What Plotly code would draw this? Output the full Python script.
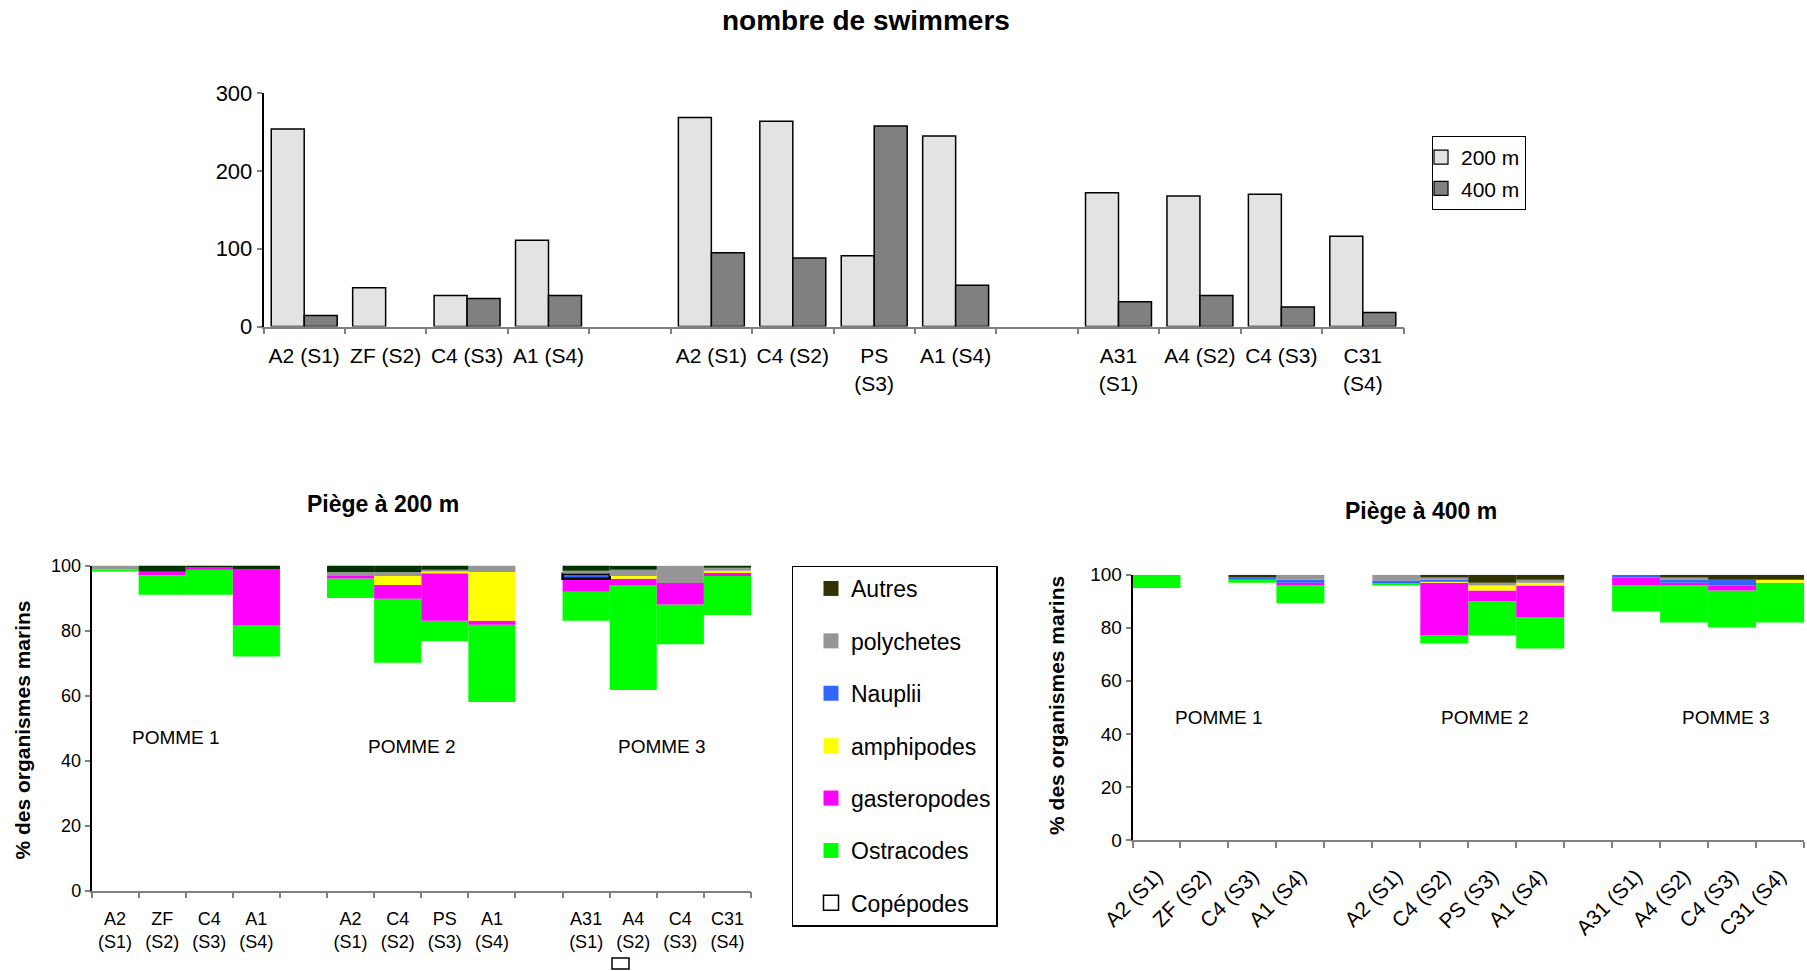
import numpy as np
import plotly.graph_objects as go

# ---------------- data ----------------
groups = ["POMME 1", "POMME 2", "POMME 3"]
sites = ["A2", "ZF", "C4", "A1", "A2", "C4", "PS", "A1", "A31", "A4", "C4", "C31"]
seasons = ["S1", "S2", "S3", "S4"] * 3

# number of swimmers
swim_200 = [254, 50, 40, 111, 269, 264, 91, 245, 172, 168, 170, 116]
swim_400 = [14, 0, 36, 40, 95, 88, 258, 53, 32, 40, 25, 18]

# % composition, trap at 200 m
cop_200 = [98.2, 91.0, 91.0, 72.0, 90.0, 70.1, 76.8, 58.0, 83.0, 61.7, 75.8, 84.8]
ost_200 = [0.6, 6.0, 8.0, 9.7, 6.0, 19.7, 6.2, 23.8, 8.9, 32.3, 12.2, 12.0]
gas_200 = [0, 1.1, 0.4, 17.1, 0.8, 4.2, 14.8, 1.2, 4.0, 1.9, 6.6, 0.9]
amp_200 = [0, 0, 0, 0, 0, 2.8, 0.6, 15.0, 0, 0.9, 0, 0.7]
nau_200 = [0, 0, 0, 0, 0, 0, 0, 0, 1.6, 0, 0, 0]
pol_200 = [1.2, 0, 0, 0, 1.2, 1.2, 0.3, 2.0, 0.9, 1.9, 5.3, 0.9]
aut_200 = [0, 1.9, 0.6, 1.2, 2.0, 2.0, 1.3, 0, 1.6, 1.2, 0, 0.7]

# % composition, trap at 400 m
cop_400 = [95.0, 0, 97.0, 89.2, 95.9, 74.1, 77.1, 72.2, 86.1, 82.0, 80.1, 82.0]
ost_400 = [5.0, 0, 1.1, 6.7, 1.0, 3.0, 12.9, 11.7, 9.8, 13.9, 13.9, 15.0]
gas_400 = [0, 0, 0, 1.1, 0, 19.9, 4.0, 12.0, 3.0, 1.1, 1.9, 0]
amp_400 = [0, 0, 0, 0, 0, 0.5, 1.9, 1.1, 0, 0, 0, 1.1]
nau_400 = [0, 0, 0.8, 1.1, 0.9, 0.6, 0, 0, 1.1, 1.1, 2.2, 0]
pol_400 = [0, 0, 0, 1.9, 2.2, 0.8, 1.1, 1.1, 0, 0.8, 0, 0]
aut_400 = [0, 0, 1.1, 0, 0, 1.1, 3.0, 1.9, 0, 1.1, 1.9, 1.9]

taxa = ["Copépodes", "Ostracodes", "gasteropodes", "amphipodes", "Nauplii", "polychetes", "Autres"]

# ---------------- styling ----------------
FONT = "Liberation Sans, Arial, sans-serif"
W, H = 1807, 971
colors_200 = ["#FFFFFF", "#00FF00", "#FF00FF", "#FFFF00", "#3366FF", "#969696", "#003300"]
colors_400 = ["#FFFFFF", "#00FF00", "#FF00FF", "#FFFF00", "#3366FF", "#969696", "#333300"]
legend_colors = ["#FFFFFF", "#00FF00", "#FF00FF", "#FFFF00", "#3366FF", "#969696", "#333300"]

n_per_group = 4
slot_per_group = n_per_group + 1
pos = [(i // n_per_group) * slot_per_group + (i % n_per_group) for i in range(len(sites))]
n_slots = len(groups) * slot_per_group - 1


def px_x(v):
    return v / W


def px_y(v):
    return 1 - v / H


top_wrap = {6, 8, 11}
top_labels = [f"{s}<br>({q})" if i in top_wrap else f"{s} ({q})" for i, (s, q) in enumerate(zip(sites, seasons))]
left_labels = [f"{s}<br>({q})" for s, q in zip(sites, seasons)]
right_labels = [f"{s} ({q})" for s, q in zip(sites, seasons)]

fig = go.Figure()

# ---- top chart ----
for name, vals, col in [("200 m", swim_200, "#E3E3E3"), ("400 m", swim_400, "#808080")]:
    fig.add_trace(go.Bar(x=pos, y=vals, name=name, xaxis="x", yaxis="y", showlegend=False,
                         marker=dict(color=col,
                                     line=dict(color="black", width=[1.5 if v else 0 for v in vals]))))
    fig.add_trace(go.Scatter(x=[None], y=[None], mode="markers", name=name, xaxis="x", yaxis="y",
                             legend="legend2", legendgroup=name, hoverinfo="skip",
                             marker=dict(symbol="square", size=14, color=col,
                                         line=dict(color="black", width=1.2))))


# ---- bottom stacked charts ----
def add_stack(layers, cols, xa, ya, special_line=None):
    base = np.zeros(len(layers[0]))
    for k, (name, vals, col) in enumerate(zip(taxa, layers, cols)):
        lw = [0] * len(vals)
        if special_line and special_line[0] == k:
            lw[special_line[1]] = 2.5
        fig.add_trace(go.Bar(x=pos, y=vals, base=base.copy(), name=name, xaxis=xa, yaxis=ya,
                             width=1, offsetgroup="stk" + xa,
                             marker=dict(color=col, line=dict(color="black", width=lw)),
                             showlegend=False))
        base = base + np.array(vals)


add_stack([cop_200, ost_200, gas_200, amp_200, nau_200, pol_200, aut_200], colors_200, "x2", "y2",
          special_line=(4, 8))
add_stack([cop_400, ost_400, gas_400, amp_400, nau_400, pol_400, aut_400], colors_400, "x3", "y3")

# legend entries (top to bottom)
for name, col in reversed(list(zip(taxa, legend_colors))):
    is_cop = name == "Copépodes"
    fig.add_trace(go.Scatter(x=[None], y=[None], mode="markers", name=name, xaxis="x2", yaxis="y2",
                             legendgroup=name, legend="legend", hoverinfo="skip",
                             marker=dict(symbol="square", size=15, color=col,
                                         line=dict(color="black" if is_cop else col,
                                                   width=1.5 if is_cop else 0))))

xcommon = dict(range=[-0.5, n_slots - 0.5], showgrid=False, zeroline=False, showline=True,
               linecolor="#808080", linewidth=1.5, ticks="", tickvals=pos, automargin=False,
               minor=dict(tick0=-0.5, dtick=1, ticks="outside", ticklen=6, tickcolor="#808080",
                          tickwidth=1.5, showgrid=False),
               fixedrange=True)
ycommon = dict(showgrid=False, zeroline=False, showline=True, linecolor="black", linewidth=1.5,
               ticks="outside", ticklen=5, tickcolor="#808080", tickwidth=1.5, fixedrange=True,
               automargin=False)

layout = dict(
    template="none",
    width=W, height=H, margin=dict(l=0, r=0, t=0, b=0, pad=0, autoexpand=False),
    paper_bgcolor="white", plot_bgcolor="white",
    font=dict(family=FONT, color="black"),
    barmode="group", bargap=0.19, bargroupgap=0,
    xaxis=dict(xcommon, domain=[px_x(263.5), px_x(1403.5)], anchor="y", ticktext=top_labels,
               tickfont=dict(size=21), ticklabelstandoff=10),
    yaxis=dict(ycommon, domain=[px_y(326.5), px_y(93.3)], anchor="x", range=[0, 300],
               tickvals=[0, 100, 200, 300], tickfont=dict(size=22)),
    xaxis2=dict(xcommon, domain=[px_x(91.5), px_x(751)], anchor="y2", ticktext=left_labels,
                tickfont=dict(size=18), ticklabelstandoff=11),
    yaxis2=dict(ycommon, domain=[px_y(890.5), px_y(565.5)], anchor="x2", range=[0, 100],
                tickvals=[0, 20, 40, 60, 80, 100], tickfont=dict(size=18)),
    xaxis3=dict(xcommon, domain=[px_x(1132.5), px_x(1804)], anchor="y3", ticktext=right_labels,
                tickfont=dict(size=21), tickangle=-45, ticklabelstandoff=14),
    yaxis3=dict(ycommon, domain=[px_y(840), px_y(574.7)], anchor="x3", range=[0, 100],
                tickvals=[0, 20, 40, 60, 80, 100], tickfont=dict(size=19)),
    legend=dict(x=px_x(791.5), y=px_y(565.5), xanchor="left", yanchor="top",
                bgcolor="white", bordercolor="black", borderwidth=1.5,
                font=dict(size=23), tracegroupgap=19.5, traceorder="grouped", indentation=18,
                itemsizing="trace"),
    legend2=dict(x=px_x(1432), y=px_y(136), xanchor="left", yanchor="top",
                 bgcolor="white", bordercolor="black", borderwidth=1,
                 font=dict(size=21), tracegroupgap=1, traceorder="grouped", indentation=-12,
                 itemsizing="trace"),
    showlegend=True,
)
fig.update_layout(**layout)

ann = [
    dict(text="<b>nombre de swimmers</b>", x=px_x(865.5), y=px_y(20.7), font=dict(size=28)),
    dict(text="<b>Piège à 200 m</b>", x=px_x(382.6), y=px_y(503.6), font=dict(size=23)),
    dict(text="<b>Piège à 400 m</b>", x=px_x(1421), y=px_y(510.5), font=dict(size=23)),
    dict(text="<b>% des organismes marins</b>", x=px_x(23), y=px_y(730.6), textangle=-90, font=dict(size=21)),
    dict(text="<b>% des organismes marins</b>", x=px_x(1057), y=px_y(705.9), textangle=-90, font=dict(size=21)),
]
for a in ann:
    fig.add_annotation(xref="paper", yref="paper", showarrow=False, xanchor="center", yanchor="middle", **a)

for g, xv, yv in zip(groups, [1.3, 6.3, 11.6], [47, 44.2, 44.2]):
    fig.add_annotation(text=g, x=xv, y=yv, xref="x2", yref="y2", showarrow=False, font=dict(size=19))
for g, xv, yv in zip(groups, [1.3, 6.85, 11.87], [46, 46, 46]):
    fig.add_annotation(text=g, x=xv, y=yv, xref="x3", yref="y3", showarrow=False, font=dict(size=19))

# stray legend marker left below the 200 m chart
fig.add_shape(type="rect", xref="paper", yref="paper", x0=px_x(612), x1=px_x(629), y0=px_y(969), y1=px_y(958),
              line=dict(color="black", width=1.5), fillcolor="white")

fig.write_html("out.html", config={"displayModeBar": False},
               post_script="document.body.style.margin='0px';document.body.style.overflow='hidden';")
